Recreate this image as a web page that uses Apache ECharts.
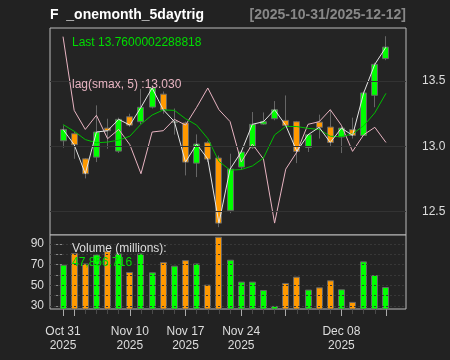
<!DOCTYPE html>
<html>
<head>
<meta charset="utf-8">
<script src="https://cdn.jsdelivr.net/npm/echarts@6/dist/echarts.min.js"></script>
<style>
html,body{margin:0;padding:0;background:#222222;}
#c{width:450px;height:360px;}
</style>
</head>
<body>
<div id="c"></div>
<script>
// ---- data ----
const dates = ['2025-10-31','2025-11-03','2025-11-04','2025-11-05','2025-11-06','2025-11-07',
  '2025-11-10','2025-11-11','2025-11-12','2025-11-13','2025-11-14',
  '2025-11-17','2025-11-18','2025-11-19','2025-11-20','2025-11-21',
  '2025-11-24','2025-11-25','2025-11-26','2025-11-28',
  '2025-12-01','2025-12-02','2025-12-03','2025-12-04','2025-12-05',
  '2025-12-08','2025-12-09','2025-12-10','2025-12-11','2025-12-12'];
const open  = [13.043,13.097,12.905,12.918,13.140,12.964,13.227,13.189,13.301,13.400,
               13.185,13.179,12.872,13.028,12.911,12.510,12.842,12.990,13.171,13.212,
               13.199,13.189,12.992,13.186,13.148,13.072,13.128,13.084,13.391,13.672];
const close = [13.130,13.013,12.791,13.110,13.120,13.207,13.163,13.299,13.447,13.281,
               13.190,12.880,13.018,12.903,12.413,12.826,12.957,13.169,13.189,13.281,
               13.161,12.962,13.089,13.146,13.030,13.140,13.084,13.409,13.628,13.760];
const low   = [12.990,12.905,12.755,12.880,12.982,12.950,13.150,13.170,13.290,13.250,
               13.090,12.778,12.765,12.880,12.382,12.489,12.820,12.980,13.165,13.200,
               13.155,12.872,12.957,13.060,12.995,12.949,13.060,13.080,13.300,13.660];
const high  = [13.160,13.110,12.910,13.314,13.212,13.220,13.250,13.440,13.460,13.420,
               13.290,13.190,13.092,13.040,12.930,12.944,12.970,13.263,13.260,13.347,
               13.390,13.195,13.095,13.243,13.281,13.145,13.220,13.420,13.640,13.843];
const volume = [69.5,80.7,70.7,79.4,82.6,80.4,62.4,80.4,62.1,72.0,
                68.5,73.9,70.7,50.2,96.5,74.3,53.1,53.1,45.0,29.6,
                51.8,57.9,45.4,47.6,54.4,45.7,33.5,72.7,59.5,47.86];
const sma5 = [13.167,13.116,13.052,13.028,13.033,13.048,13.078,13.170,13.240,13.279,
              13.276,13.212,13.163,13.060,12.886,12.818,12.823,12.850,12.911,13.088,
              13.153,13.152,13.138,13.130,13.078,13.074,13.096,13.158,13.257,13.406];
const lagClose = [13.840,13.276,13.130,13.238,13.059,13.130,13.013,12.791,13.110,13.120,
                  13.207,13.163,13.299,13.447,13.281,13.190,12.880,13.018,12.903,12.413,
                  12.826,12.957,13.169,13.189,13.281,13.161,12.962,13.089,13.146,13.030];
const priceTicks = [12.5, 13.0, 13.5];
const volTicks = [30, 40, 50, 60, 70, 80, 90];
const volLabelTicks = [30, 50, 70, 90];
const xLabelIdx = [0, 6, 11, 16, 25];
const xLabels = ['Oct 31\n2025', 'Nov 10\n2025', 'Nov 17\n2025', 'Nov 24\n2025', 'Dec 08\n2025'];
const xMajorIdx = [0, 1, 6, 11, 16, 20, 25, 29];
const titleText = 'F  _onemonth_5daytrig';
const rangeText = '[2025-10-31/2025-12-12]';
const lastText = 'Last 13.7600002288818';
const lagText = 'lag(smax, 5) :13.030';
const volTitle = 'Volume (millions):';
const volLast = '47,856,716';

// ---- layout / style ----
const X_MIN = -1.17, X_MAX = 30.8;
const P_MIN = 12.322, P_MAX = 13.906;
const V_MIN = 27.1, V_MAX = 98.7;
const UP = '#00ff00', DN = '#ff9900', BORDER = '#666666';
const FONT = 'Liberation Sans, Arial, sans-serif';

const chart = echarts.init(document.getElementById('c'), null, {renderer: 'canvas'});

const candleData = dates.map((d, i) => [i, open[i], close[i], low[i], high[i]]);
const volData = dates.map((d, i) => [i, volume[i], close[i] >= open[i] ? 1 : 0]);

function candleItem(params, api) {
  const i = api.value(0), o = api.value(1), c = api.value(2), l = api.value(3), h = api.value(4);
  const pO = api.coord([i, o]), pC = api.coord([i, c]), pL = api.coord([i, l]), pH = api.coord([i, h]);
  const left = Math.round(pO[0] - 3.5) + 0.5;
  const cx = left + 3;
  const top = Math.min(pO[1], pC[1]), bot = Math.max(pO[1], pC[1]);
  return {
    type: 'group',
    children: [
      {type: 'line', shape: {x1: cx, y1: pH[1], x2: cx, y2: pL[1]}, style: {stroke: BORDER, lineWidth: 1}},
      {type: 'rect', shape: {x: left, y: top, width: 6, height: Math.max(bot - top, 1)},
       style: {fill: c >= o ? UP : DN, stroke: BORDER, lineWidth: 1}}
    ]
  };
}
function volItem(params, api) {
  const i = api.value(0), v = api.value(1), up = api.value(2);
  const p = api.coord([i, v]), b = api.coord([i, V_MIN]);
  const left = Math.round(p[0] - 3.5) + 0.5;
  return {type: 'rect', shape: {x: left, y: p[1], width: 6, height: b[1] - p[1]},
          style: {fill: up ? UP : DN, stroke: BORDER, lineWidth: 1}};
}

const option = {
  backgroundColor: '#222222',
  animation: false,
  grid: [
    {left: 50, right: 44, top: 28, height: 207, show: true, backgroundColor: '#242424', borderColor: '#bbbbbb', borderWidth: 1},
    {left: 50, right: 44, top: 235, height: 74, show: true, backgroundColor: '#242424', borderColor: '#bbbbbb', borderWidth: 1}
  ],
  xAxis: [
    {type: 'value', gridIndex: 0, min: X_MIN, max: X_MAX, axisLine: {show: false}, axisTick: {show: false},
     axisLabel: {show: false}, splitLine: {show: false}},
    {type: 'value', gridIndex: 1, min: X_MIN, max: X_MAX, position: 'bottom', axisLine: {show: false},
     axisTick: {show: true, length: 5, customValues: dates.map((d, i) => i), lineStyle: {color: '#4a4a4a'}},
     axisLabel: {show: true, customValues: xLabelIdx, margin: 16, color: '#dddddd', fontSize: 12, fontFamily: FONT, lineHeight: 13.5,
       formatter: v => { const k = xLabelIdx.indexOf(Math.round(v)); return k >= 0 ? xLabels[k] : ''; }},
     splitLine: {show: false}},
    {type: 'value', gridIndex: 1, min: X_MIN, max: X_MAX, position: 'bottom', offset: 0, axisLine: {show: false},
     axisTick: {show: true, length: 7, customValues: xMajorIdx, lineStyle: {color: '#aaaaaa'}},
     axisLabel: {show: false}, splitLine: {show: false}}
  ],
  yAxis: [
    {type: 'value', gridIndex: 0, min: P_MIN, max: P_MAX, position: 'right', axisLine: {show: false},
     axisTick: {show: true, length: 8, customValues: priceTicks, lineStyle: {color: '#888888'}},
     axisLabel: {show: true, customValues: priceTicks, margin: 16, color: '#dddddd', fontSize: 12, fontFamily: FONT,
       formatter: v => v.toFixed(1)},
     splitLine: {show: false}},
    {type: 'value', gridIndex: 1, min: V_MIN, max: V_MAX, position: 'left', axisLine: {show: false},
     axisTick: {show: true, length: 7, customValues: volTicks, lineStyle: {color: '#888888'}},
     axisLabel: {show: true, customValues: volLabelTicks, margin: 6, color: '#dddddd', fontSize: 12, fontFamily: FONT,
       formatter: v => String(Math.round(v))},
     splitLine: {show: false}}
  ],
  series: [
    {type: 'line', xAxisIndex: 0, yAxisIndex: 0, data: [], z: 1, silent: true,
     markLine: {silent: true, symbol: 'none', animation: false, label: {show: false},
       lineStyle: {color: '#333333', type: 'solid', width: 1}, emphasis: {disabled: true},
       data: priceTicks.map(v => ({yAxis: v}))}},
    {type: 'line', xAxisIndex: 1, yAxisIndex: 1, data: [], z: 1, silent: true,
     markLine: {silent: true, symbol: 'none', animation: false, label: {show: false},
       lineStyle: {color: '#383838', type: [2, 2], width: 1}, emphasis: {disabled: true},
       data: volTicks.map(v => ({yAxis: v}))}},
    {type: 'custom', name: 'price', xAxisIndex: 0, yAxisIndex: 0, data: candleData, renderItem: candleItem, z: 2,
     encode: {x: 0, y: [1, 2, 3, 4]}, clip: true},
    {type: 'line', name: 'lag', xAxisIndex: 0, yAxisIndex: 0, data: lagClose.map((v, i) => [i, v]), z: 3,
     showSymbol: false, lineStyle: {color: '#e8b4c2', width: 1}, silent: true},
    {type: 'line', name: 'sma', xAxisIndex: 0, yAxisIndex: 0, data: sma5.map((v, i) => [i, v]), z: 3,
     showSymbol: false, lineStyle: {color: '#00c000', width: 1}, silent: true},
    {type: 'line', name: 'close', xAxisIndex: 0, yAxisIndex: 0, data: close.map((v, i) => [i, v]), z: 4,
     showSymbol: false, lineStyle: {color: '#e6e6e6', width: 1}, silent: true},
    {type: 'custom', name: 'volume', xAxisIndex: 1, yAxisIndex: 1, data: volData, renderItem: volItem, z: 2,
     encode: {x: 0, y: 1}}
  ],
  graphic: [
    {type: 'text', x: 50, y: 15, z: 10, style: {text: titleText, fill: '#ffffff', font: 'bold 14px ' + FONT,
      textAlign: 'left', textVerticalAlign: 'middle', align: 'left', verticalAlign: 'middle'}},
    {type: 'text', x: 406, y: 15, z: 10, style: {text: rangeText, fill: '#888888', font: 'bold 14px ' + FONT,
      textAlign: 'right', textVerticalAlign: 'middle', align: 'right', verticalAlign: 'middle'}},
    {type: 'text', x: 72, y: 42.5, z: 10, style: {text: lastText, fill: '#00dd00', font: '12px ' + FONT,
      textAlign: 'left', textVerticalAlign: 'middle', align: 'left', verticalAlign: 'middle'}},
    {type: 'text', x: 72, y: 84.5, z: 10, style: {text: lagText, fill: '#e8b4c2', font: '12px ' + FONT,
      textAlign: 'left', textVerticalAlign: 'middle', align: 'left', verticalAlign: 'middle'}},
    {type: 'text', x: 72, y: 248.5, z: 10, style: {text: volTitle, fill: '#dddddd', font: '12px ' + FONT,
      textAlign: 'left', textVerticalAlign: 'middle', align: 'left', verticalAlign: 'middle'}},
    {type: 'text', x: 72, y: 262.5, z: 10, style: {text: volLast, fill: '#00dd00', font: '12px ' + FONT,
      textAlign: 'left', textVerticalAlign: 'middle', align: 'left', verticalAlign: 'middle'}}
  ]
};
chart.setOption(option);
</script>
</body>
</html>
